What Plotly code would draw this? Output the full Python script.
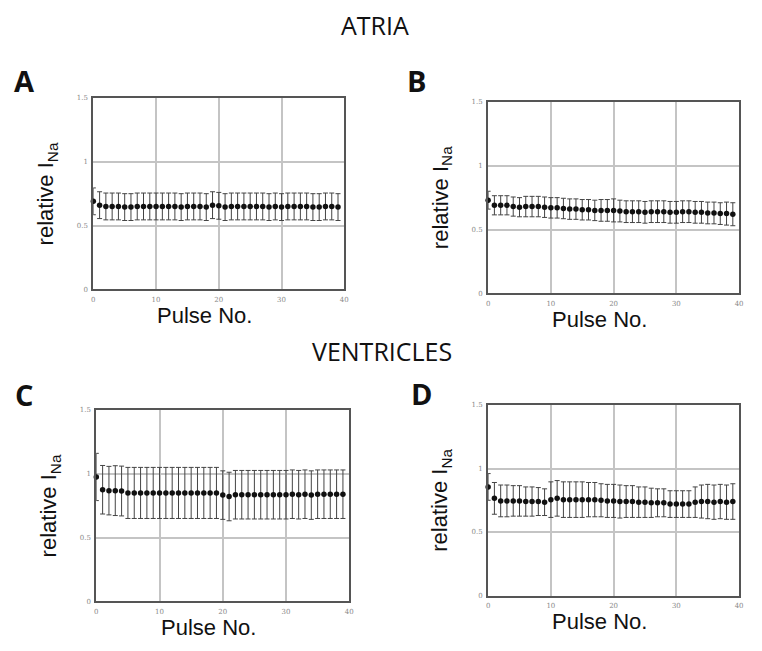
import plotly.graph_objects as go

pulse = list(range(40))

atria_A = [0.69, 0.66, 0.65, 0.65, 0.65, 0.645, 0.645, 0.65, 0.65, 0.65,
           0.65, 0.65, 0.65, 0.65, 0.645, 0.65, 0.65, 0.65, 0.645, 0.66,
           0.655, 0.645, 0.65, 0.65, 0.65, 0.65, 0.65, 0.65, 0.645, 0.65,
           0.645, 0.65, 0.65, 0.65, 0.65, 0.645, 0.645, 0.65, 0.65, 0.645]
err_A = [0.105] * 40

atria_B = [0.73, 0.69, 0.69, 0.69, 0.68, 0.675, 0.68, 0.68, 0.68, 0.675,
           0.67, 0.67, 0.665, 0.66, 0.66, 0.655, 0.655, 0.65, 0.65, 0.65,
           0.65, 0.645, 0.64, 0.64, 0.64, 0.635, 0.64, 0.64, 0.64, 0.635,
           0.635, 0.64, 0.64, 0.635, 0.635, 0.63, 0.63, 0.625, 0.625, 0.62]
err_B = [0.07, 0.075, 0.075, 0.075, 0.075, 0.075, 0.08, 0.08, 0.08, 0.08,
         0.08, 0.08, 0.08, 0.08, 0.08, 0.08, 0.08, 0.08, 0.085, 0.085,
         0.09, 0.085, 0.085, 0.085, 0.085, 0.085, 0.085, 0.085, 0.085, 0.085,
         0.085, 0.085, 0.085, 0.085, 0.085, 0.085, 0.085, 0.085, 0.09, 0.09]

vent_C = [0.975, 0.875, 0.868, 0.868, 0.865, 0.85, 0.85, 0.85, 0.85, 0.85,
          0.85, 0.85, 0.85, 0.85, 0.85, 0.85, 0.85, 0.85, 0.85, 0.85,
          0.833, 0.822, 0.836, 0.836, 0.836, 0.836, 0.836, 0.836, 0.836, 0.836,
          0.836, 0.84, 0.836, 0.84, 0.833, 0.84, 0.84, 0.84, 0.84, 0.84]
err_C = [0.185, 0.19, 0.19, 0.195, 0.195, 0.2, 0.2, 0.2, 0.2, 0.2,
         0.2, 0.2, 0.2, 0.2, 0.2, 0.2, 0.2, 0.2, 0.2, 0.2,
         0.19, 0.19, 0.19, 0.19, 0.19, 0.19, 0.19, 0.19, 0.19, 0.19,
         0.19, 0.19, 0.19, 0.19, 0.19, 0.19, 0.19, 0.19, 0.19, 0.19]

vent_D = [0.855, 0.765, 0.745, 0.745, 0.745, 0.745, 0.74, 0.74, 0.74, 0.735,
          0.755, 0.765, 0.755, 0.755, 0.755, 0.755, 0.755, 0.755, 0.75, 0.745,
          0.745, 0.74, 0.74, 0.74, 0.735, 0.735, 0.73, 0.73, 0.73, 0.72,
          0.72, 0.72, 0.72, 0.735, 0.74, 0.74, 0.735, 0.74, 0.735, 0.74]
err_D = [0.105, 0.125, 0.125, 0.125, 0.12, 0.12, 0.115, 0.115, 0.11, 0.105,
         0.14, 0.14, 0.14, 0.14, 0.14, 0.14, 0.135, 0.135, 0.13, 0.13,
         0.13, 0.13, 0.125, 0.125, 0.12, 0.12, 0.115, 0.11, 0.11, 0.105,
         0.105, 0.105, 0.105, 0.12, 0.13, 0.135, 0.135, 0.135, 0.135, 0.14]

x_ticks = [0, 10, 20, 30, 40]
x_tick_text = ["0", "10", "20", "30", "40"]
y_ticks = [0, 0.5, 1, 1.5]
y_tick_text = ["0", "0.5", "1", "1.5"]

panels = [
    ("A", atria_A, err_A, [92, 345], [95, 289]),
    ("B", atria_B, err_B, [490, 743], [99, 293]),
    ("C", vent_C, err_C, [95, 350], [411, 605]),
    ("D", vent_D, err_D, [490, 743], [406, 599]),
]

# page body has an 8px margin; figure placed accordingly
OFF = 8
W, H = 746, 635


def px(xp):
    return (xp - OFF) / W


def py(yp):
    return 1 - (yp - OFF) / H


fig = go.Figure()
annotations = []

for i, (letter, vals, errs, xpx, ypx) in enumerate(panels):
    n = "" if i == 0 else str(i + 1)
    xa, ya = "x" + n, "y" + n
    fig.add_trace(go.Scatter(
        x=pulse, y=vals, xaxis=xa, yaxis=ya, mode="markers",
        marker=dict(color="#111111", size=5.5),
        error_y=dict(type="data", array=errs, visible=True,
                     color="#444444", thickness=1, width=2.5),
        showlegend=False, cliponaxis=False,
    ))
    axis_common = dict(showline=True, mirror=True, linecolor="#555555",
                       linewidth=2, showgrid=True, gridcolor="#c4c4c4",
                       gridwidth=1.5, zeroline=False, ticks="", fixedrange=True,
                       tickfont=dict(family="DejaVu Serif", size=7, color="#888888"))
    fig.update_layout(**{
        ("xaxis" + n): dict(domain=[px(xpx[0]), px(xpx[1])], range=[0, 40],
                            tickvals=x_ticks, ticktext=x_tick_text,
                            anchor=ya, ticklabelstandoff=2, **axis_common),
        ("yaxis" + n): dict(domain=[py(ypx[1]), py(ypx[0])], range=[0, 1.5],
                            tickvals=y_ticks, ticktext=y_tick_text,
                            anchor=xa, ticklabelstandoff=2, **axis_common),
    })
    cx = (xpx[0] + xpx[1]) / 2
    cy = (ypx[0] + ypx[1]) / 2
    annotations.append(dict(text="relative I<sub>Na</sub>", x=px(xpx[0] - 47),
                            y=py(cy), xref="paper", yref="paper", textangle=-90,
                            showarrow=False, xanchor="center", yanchor="middle",
                            font=dict(family="Liberation Sans", size=22, color="#111111")))
    annotations.append(dict(text="Pulse No.", x=px(cx - 14), y=py(ypx[1] + 26),
                            xref="paper", yref="paper", showarrow=False,
                            xanchor="center", yanchor="middle",
                            font=dict(family="Liberation Sans", size=22, color="#111111")))

letter_pos = {"A": (23, 77), "B": (418, 77), "C": (22, 395), "D": (423, 394)}
for letter, (lx, ly) in letter_pos.items():
    annotations.append(dict(text="<b>" + letter + "</b>", x=px(lx), y=py(ly),
                            xref="paper", yref="paper", showarrow=False,
                            xanchor="center", yanchor="middle",
                            font=dict(family="Open Sans", size=29, color="#111111")))

annotations.append(dict(text="ATRIA", x=px(376), y=py(21), xref="paper", yref="paper",
                        showarrow=False, xanchor="center", yanchor="middle",
                        font=dict(family="Open Sans", size=25, color="#111111")))
annotations.append(dict(text="VENTRICLES", x=px(383), y=py(351), xref="paper", yref="paper",
                        showarrow=False, xanchor="center", yanchor="middle",
                        font=dict(family="Open Sans", size=25, color="#111111")))

fig.update_layout(width=W, height=H, margin=dict(l=0, r=0, t=0, b=0),
                  paper_bgcolor="white", plot_bgcolor="white",
                  annotations=annotations)

fig.write_html("out.html")
